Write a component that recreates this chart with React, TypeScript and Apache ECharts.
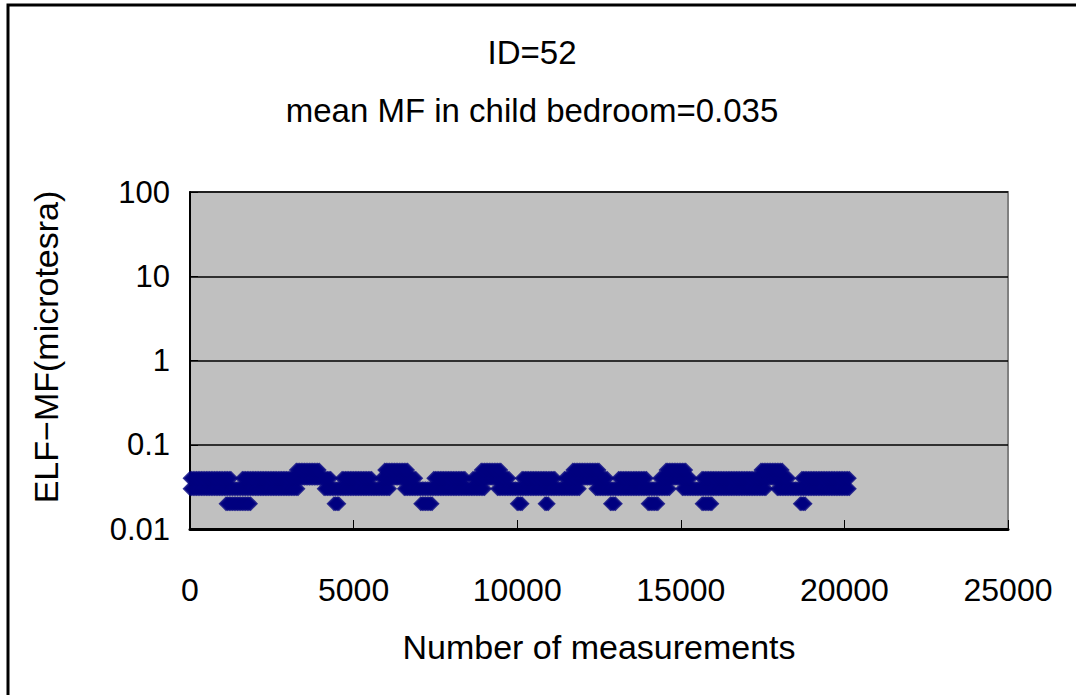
import React, { useEffect, useRef } from "react";
import * as echarts from "echarts";

const titleLines = ["ID=52", "mean MF in child bedroom=0.035"];
const xAxisName = "Number of measurements";
const yAxisName = "ELF\u2212MF(microtesra)";
const xTicks = [0, 5000, 10000, 15000, 20000, 25000];
const yTicks = [0.01, 0.1, 1, 10, 100];

// Recorded readings are quantised to 0.01 µT; each list holds the runs
// [first measurement, last measurement] during which that reading was logged.
const runs002 = [
  [1100, 1850], [4400, 4550], [7050, 7400], [10000, 10150], [10850, 10950],
  [12850, 13000], [14000, 14300], [15650, 15950], [18650, 18800],
];
const runs003 = [
  [0, 3300], [4100, 6100], [6550, 9000], [9400, 11900], [12400, 14650],
  [15050, 17600], [17950, 20150],
];
const runs004 = [
  [0, 1250], [1600, 4300], [4650, 5550], [5850, 6900], [7450, 8400],
  [8650, 9750], [10150, 11150], [11450, 12750], [13100, 13950],
  [14350, 15300], [15650, 18300], [18700, 20150],
];
const runs005 = [
  [3250, 3950], [5950, 6650], [8900, 9500], [11700, 12500], [14550, 15150],
  [17450, 18100],
];
const levels = [0.02, 0.03, 0.04, 0.05];
const runsByLevel = [runs002, runs003, runs004, runs005];
const decodeStep = 50;

function decodeRuns(runs: number[][], level: number): number[][] {
  const pts: number[][] = [];
  for (const [a, b] of runs) {
    for (let x = a; x <= b; x += decodeStep) pts.push([x, level]);
    if ((b - a) % decodeStep !== 0) pts.push([b, level]);
  }
  return pts;
}

const FONT = "'Liberation Sans', Arial, sans-serif";

export default function App() {
  const ref = useRef<HTMLDivElement>(null);
  useEffect(() => {
    if (!ref.current) return;
    const chart = echarts.init(ref.current, null, { renderer: "svg" });
    const data: number[][] = [];
    runsByLevel.forEach((r, i) => data.push(...decodeRuns(r, levels[i])));
    chart.setOption({
      animation: false,
      backgroundColor: "#ffffff",
      title: {
        text: titleLines.join("\n"),
        left: 527,
        textAlign: "center",
        top: 18,
        textStyle: {
          fontFamily: FONT,
          fontSize: 33,
          fontWeight: "normal",
          color: "#000",
          lineHeight: 58,
        },
      },
      graphic: [
        {
          type: "rect",
          shape: { x: 8, y: 5, width: 1100, height: 720 },
          style: { fill: "none", stroke: "#000", lineWidth: 3 },
          z: 100,
        },
        {
          type: "text",
          x: 46,
          y: 347,
          rotation: Math.PI / 2,
          style: {
            text: yAxisName,
            align: "center",
            verticalAlign: "middle",
            fontFamily: FONT,
            fontSize: 34,
            fill: "#000",
          },
        },
      ],
      grid: {
        left: 190,
        top: 192,
        right: 68,
        bottom: 166,
        show: true,
        backgroundColor: "#C0C0C0",
        borderColor: "#808080",
        borderWidth: 2,
      },
      xAxis: {
        type: "value",
        min: xTicks[0],
        max: xTicks[xTicks.length - 1],
        interval: xTicks[1] - xTicks[0],
        name: xAxisName,
        nameLocation: "middle",
        nameGap: 101,
        nameTextStyle: { fontFamily: FONT, fontSize: 34, color: "#000" },
        axisLine: { show: true, onZero: false, lineStyle: { color: "#000", width: 3 } },
        axisTick: { show: true, inside: true, length: 9, lineStyle: { color: "#000", width: 1 } },
        axisLabel: {
          fontFamily: FONT,
          fontSize: 32,
          color: "#000",
          margin: 45,
          formatter: (v: number) => String(v),
        },
        splitLine: { show: false },
      },
      yAxis: {
        type: "log",
        logBase: 10,
        min: yTicks[0],
        max: yTicks[yTicks.length - 1],
        axisLine: { show: true, lineStyle: { color: "#000", width: 2 } },
        axisTick: { show: true, inside: true, length: 8, lineStyle: { color: "#000" } },
        axisLabel: {
          fontFamily: FONT,
          fontSize: 31,
          color: "#000",
          margin: 20,
          formatter: (v: number) => String(parseFloat(v.toPrecision(3))),
        },
        splitLine: { show: true, lineStyle: { color: "#000", width: 1.5 } },
      },
      series: [
        {
          type: "scatter",
          data,
          symbol: "diamond",
          symbolSize: 15,
          itemStyle: { color: "#000080" },
          silent: true,
        },
      ],
    });
    return () => chart.dispose();
  }, []);
  return (
    <div
      ref={ref}
      style={{ position: "absolute", left: 0, top: 0, width: 1076, height: 695 }}
    />
  );
}
